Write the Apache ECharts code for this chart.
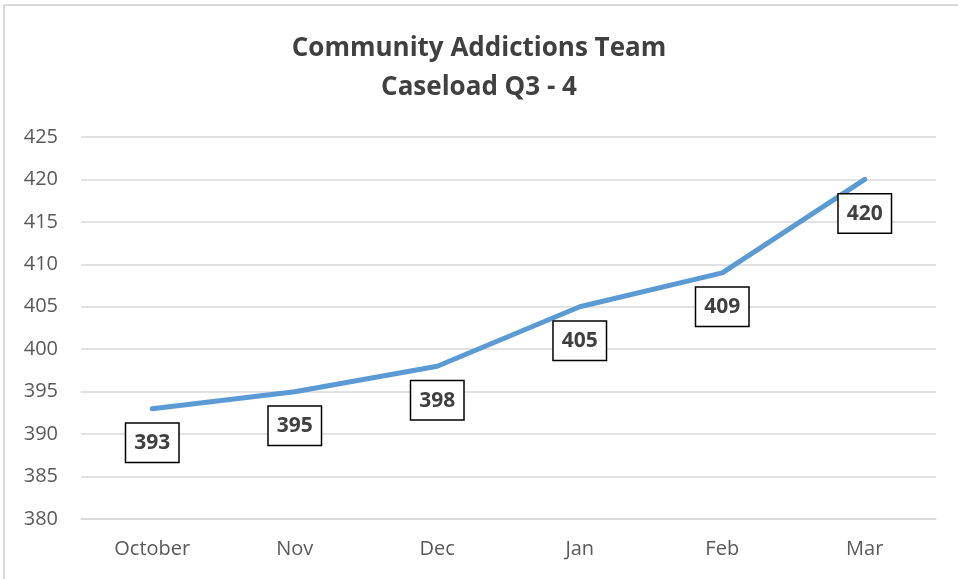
<!DOCTYPE html>
<html><head><meta charset="utf-8">
<style>html,body{margin:0;padding:0;background:#fff}#c{width:958px;height:579px}</style>
<script src="https://cdn.jsdelivr.net/npm/echarts@6/dist/echarts.min.js"></script>
</head><body><div id="c"></div>
<script>
const categories = ['October','Nov','Dec','Jan','Feb','Mar'];
const caseload = [393,395,398,405,409,420];
const yTicks = {min:380, max:425, interval:5};

const chart = echarts.init(document.getElementById('c'));
chart.setOption({
  animation:false,
  backgroundColor:'#fff',
  title:{
    text:'Community Addictions Team\nCaseload Q3 - 4',
    left:'center', top:24,
    textStyle:{fontFamily:'Open Sans',fontWeight:'bold',fontSize:26,color:'#404040',lineHeight:39}
  },
  grid:{left:81,right:22,top:137,bottom:60,containLabel:false},
  xAxis:{
    type:'category', data:categories, boundaryGap:true,
    axisLine:{show:true,lineStyle:{color:'#d9d9d9',width:1.5}},
    axisTick:{show:false},
    axisLabel:{fontFamily:'Open Sans',fontSize:20,color:'#595959',margin:20}
  },
  yAxis:{
    type:'value', min:yTicks.min, max:yTicks.max, interval:yTicks.interval,
    axisLine:{show:false}, axisTick:{show:false},
    splitLine:{lineStyle:{color:'#d9d9d9',width:1.5}},
    axisLabel:{fontFamily:'Open Sans',fontSize:20,color:'#595959',margin:23}
  },
  series:[{
    type:'line', data:caseload, symbol:'circle', symbolSize:4, showSymbol:true,
    itemStyle:{color:'#5B9BD5',borderWidth:0},
    lineStyle:{color:'#5B9BD5',width:5,cap:'round'},
    label:{
      show:true, position:'bottom', distance:13,
      fontFamily:'Open Sans',fontWeight:'bold',fontSize:21,color:'#404040',
      backgroundColor:'#ffffff', borderColor:'#000000', borderWidth:1.5,
      padding:[9,8,8,8]
    },
    labelLayout:{hideOverlap:false}
  }],
  graphic:[
    {type:'line',shape:{x1:4,y1:5,x2:958,y2:5},style:{stroke:'#d9d9d9',lineWidth:2}},
    {type:'line',shape:{x1:4,y1:5,x2:4,y2:579},style:{stroke:'#d9d9d9',lineWidth:2}}
  ]
});
</script></body></html>
